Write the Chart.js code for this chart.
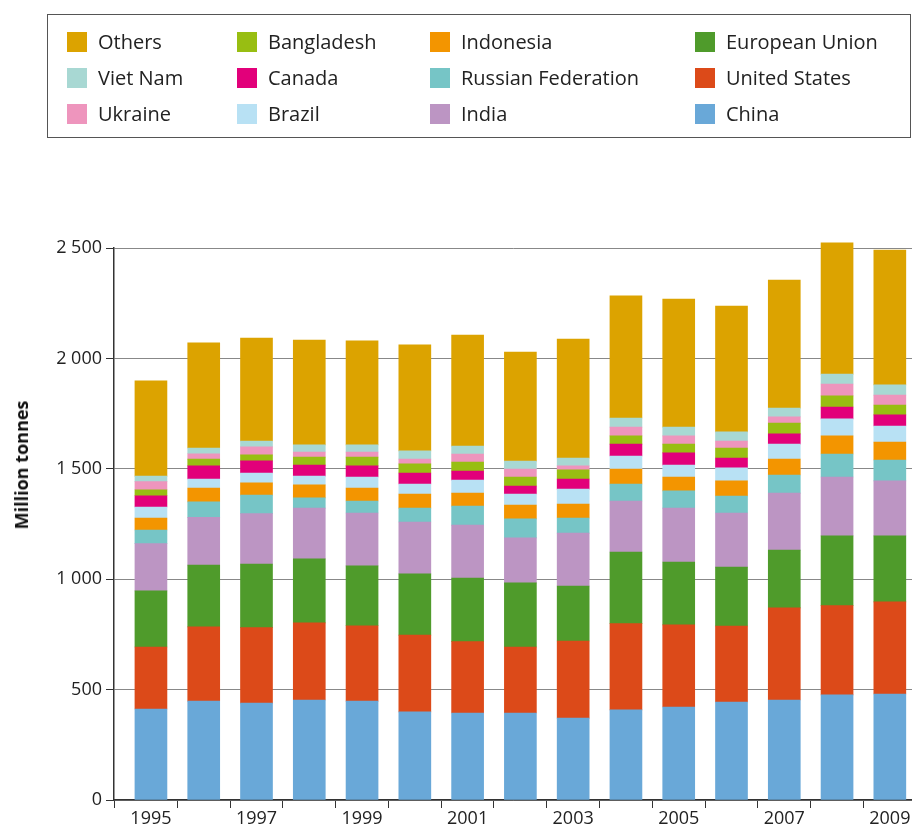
<!DOCTYPE html>
<html>
<head>
<meta charset="utf-8">
<style>
  body { margin: 0; background: #fff; width: 912px; height: 827px; overflow: hidden; position: relative; font-family: 'Open Sans', sans-serif; color: #222; }
  #legend { position: absolute; left: 47px; top: 14px; width: 862px; height: 122px; border: 1px solid #555; }
  .item { position: absolute; display: flex; align-items: center; font-size: 20px; white-space: nowrap; }
  .sw { width: 20px; height: 20px; margin-right: 11px; }
  #ytitle { position: absolute; left: 21px; top: 465px; transform: translate(-50%, -50%) rotate(-90deg); font-weight: bold; font-size: 18px; white-space: nowrap; color: #111; }
</style>
</head>
<body>
<canvas id="chart" width="912" height="827"></canvas>
<div id="legend"></div>
<div id="ytitle">Million tonnes</div>
<script src="https://cdn.jsdelivr.net/npm/chart.js"></script>
<script>
const years = [1995,1996,1997,1998,1999,2000,2001,2002,2003,2004,2005,2006,2007,2008,2009];
const china      = [412,448,439,453,448,399,394,394,371,408,421,444,453,476,480];
const usa        = [281,336,342,349,341,348,323,299,349,391,372,344,417,404,417];
const eu         = [254,280,288,290,271,277,288,290,249,324,285,267,262,316,299];
const india      = [214,216,228,230,240,235,240,204,240,231,244,245,258,267,249];
const russia     = [62,70,84,46,54,63,86,86,68,77,78,77,82,104,95];
const indonesia  = [54,63,55,59,59,64,59,63,63,68,63,68,72,82,81];
const brazil     = [50,41,45,40,50,45,59,50,68,59,54,59,68,77,73];
const canada     = [51,59,55,50,50,50,41,36,46,54,55,45,46,54,50];
const bangladesh = [27,31,27,36,40,41,41,41,41,37,40,45,49,50,45];
const ukraine    = [37,24,36,23,23,22,36,36,18,40,37,32,28,54,45];
const vietnam    = [25,26,27,32,32,37,36,36,36,41,40,41,40,45,46];
const others     = [431,476,466,475,472,480,503,494,539,553,580,570,580,594,611];
const yTicks = [0,500,1000,1500,2000,2500];

const series = [
  ['China', china, '#69a8d8'],
  ['United States', usa, '#dc4a19'],
  ['European Union', eu, '#4f9b2b'],
  ['India', india, '#bc95c3'],
  ['Russian Federation', russia, '#76c5c6'],
  ['Indonesia', indonesia, '#f39500'],
  ['Brazil', brazil, '#b8e1f4'],
  ['Canada', canada, '#e2007a'],
  ['Bangladesh', bangladesh, '#98be12'],
  ['Ukraine', ukraine, '#ee95bd'],
  ['Viet Nam', vietnam, '#a8d8d3'],
  ['Others', others, '#dca300']
];

const xMin = 1994.3, xMax = 2009.42;
const fmt = v => v >= 1000 ? String(v).replace(/\B(?=(\d{3})+(?!\d))/g, ' ') : String(v);

new Chart(document.getElementById('chart'), {
  type: 'bar',
  data: {
    labels: years,
    datasets: series.map(([name, vals, col]) => ({
      label: name, data: vals, backgroundColor: col, borderWidth: 0,
      barThickness: 32, clip: false
    }))
  },
  options: {
    responsive: false,
    animation: false,
    layout: { padding: { top: 248, right: 0, left: 0, bottom: 0 } },
    plugins: { legend: { display: false }, tooltip: { enabled: false } },
    scales: {
      x: {
        type: 'linear', stacked: true, min: xMin, max: xMax, offset: false,
        afterBuildTicks: s => {
          const t = [xMin];
          years.forEach((y, i) => { t.push(y); if (i < years.length - 1) t.push(y + 0.5); });
          s.ticks = t.map(v => ({ value: v }));
        },
        afterFit: s => { s.height = 27; },
        border: { color: '#333', width: 1.5 },
        grid: {
          drawOnChartArea: false, tickLength: 8, offset: false,
          tickColor: c => (c.tick && (c.tick.value % 1 !== 0)) ? '#333' : 'transparent'
        },
        ticks: {
          autoSkip: false, maxRotation: 0, padding: 0, color: '#222',
          font: { family: 'Open Sans', size: 18 },
          callback: v => (Number.isInteger(v) && (v - years[0]) % 2 === 0) ? String(v) : ''
        }
      },
      y: {
        stacked: true, min: 0, max: 2500,
        afterBuildTicks: s => { s.ticks = yTicks.map(v => ({ value: v })); },
        afterFit: s => { s.width = 114; },
        border: { color: '#333', width: 1.5 },
        grid: { color: '#888', lineWidth: 1, tickLength: 8, tickColor: '#333' },
        ticks: { padding: 4, color: '#222', font: { family: 'Open Sans', size: 18 }, callback: v => fmt(v) }
      }
    }
  }
});

// legend laid out in four columns, top item of the stack first
const legend = document.getElementById('legend');
const colX = [19, 189, 382, 647];
series.slice().reverse().forEach(([name, , col], i) => {
  const c = Math.floor(i / 3), r = i % 3;
  const el = document.createElement('div');
  el.className = 'item';
  el.style.left = colX[c] + 'px';
  el.style.top = (13 + r * 36) + 'px';
  el.innerHTML = '<span class="sw" style="background:' + col + '"></span>' + name;
  legend.appendChild(el);
});
</script>
</body>
</html>
